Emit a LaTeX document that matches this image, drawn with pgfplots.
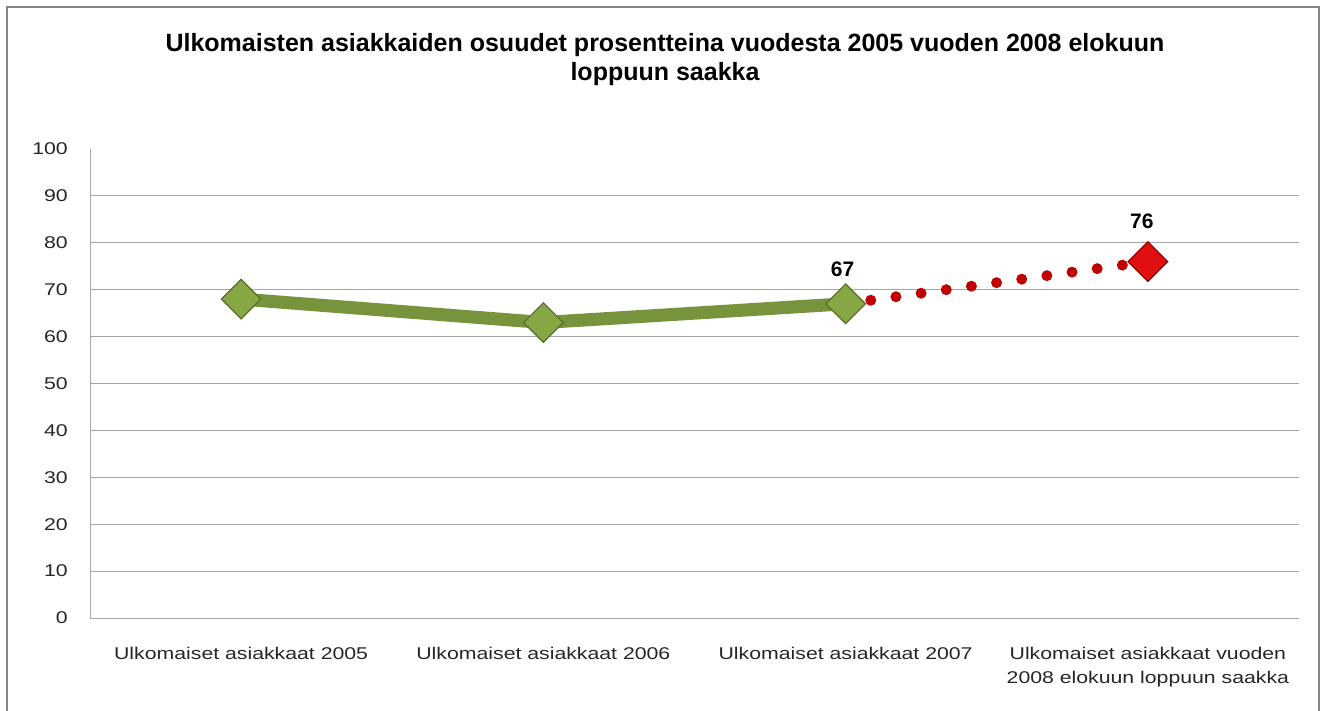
\documentclass[border=0pt]{standalone}
\usepackage{fontspec}
\setmainfont{Liberation Sans}
\newfontfamily\tickfont[FakeStretch=1.25]{Liberation Sans}
\usepackage{pgfplots}
\pgfplotsset{compat=1.18}
\definecolor{gline}{HTML}{77933C}
\definecolor{gfill}{HTML}{86A844}
\definecolor{rdot}{HTML}{C00000}
\definecolor{rfill}{HTML}{E01010}
\definecolor{gridc}{HTML}{A6A6A6}
\definecolor{framec}{HTML}{868686}
\begin{document}
\begin{tikzpicture}[x=1pt,y=1pt]
\useasboundingbox (0,0) rectangle (1332,710);
\draw[framec, line width=2pt] (7,-10) -- (7,703) -- (1319,703) -- (1319,-10);
\node[font=\bfseries\fontsize{25}{29}\selectfont, align=center] at (665,650.5)
  {Ulkomaisten asiakkaiden osuudet prosentteina vuodesta 2005 vuoden 2008 elokuun\\loppuun saakka};
\begin{axis}[
  at={(90pt,92pt)}, anchor=south west,
  scale only axis, width=1209pt, height=469pt,
  xmin=-0.5, xmax=3.5, ymin=0, ymax=100,
  ytick={0,10,...,90}, extra y ticks={100}, extra y tick style={grid=none},
  ymajorgrids, grid style={gridc, line width=1pt},
  axis x line*=bottom, axis y line*=left,
  axis line style={gridc, line width=1pt},
  major tick length=0pt,
  xtick={0,1,2,3},
  xticklabels={Ulkomaiset asiakkaat 2005, Ulkomaiset asiakkaat 2006, Ulkomaiset asiakkaat 2007, {Ulkomaiset asiakkaat vuoden\\2008 elokuun loppuun saakka}},
  xticklabel style={align=center, font=\tickfont\fontsize{17}{24}\selectfont, yshift=-26pt, text=black!85},
  yticklabel style={font=\tickfont\fontsize{17}{19}\selectfont, inner sep=0pt, xshift=-22pt, text=black!85},
  /pgf/number format/assume math mode=true,
  clip=false,
]
\addplot[rdot, line width=11pt, line cap=round, dash pattern=on 0pt off 25.4pt, forget plot] coordinates {(2,67) (3,76)};
\addplot[gline, line width=13pt, mark=square*, mark size=14pt,
  mark options={rotate=45, fill=gfill, draw=gline!75!black, line width=1.2pt, solid}] coordinates {(0,68) (1,63) (2,67)};
\addplot[only marks, mark=square*, mark size=14pt,
  mark options={rotate=45, fill=rfill, draw=rdot!70!black, line width=1.2pt}] coordinates {(3,76)};
\node[font=\bfseries\fontsize{21}{24}\selectfont] at (axis cs:2,67) [xshift=-3pt, yshift=34pt] {67};
\node[font=\bfseries\fontsize{21}{24}\selectfont] at (axis cs:3,76) [xshift=-6pt, yshift=40pt] {76};
\end{axis}
\end{tikzpicture}
\end{document}
